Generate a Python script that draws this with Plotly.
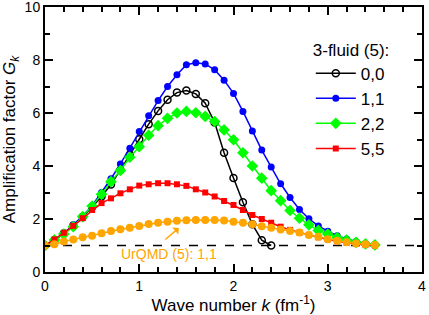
import plotly.graph_objects as go

k = [round(0.1 * i, 1) for i in range(36)]
k_00 = k[:25]

g_00 = [1.0, 1.2, 1.45, 1.75, 2.08, 2.45, 2.85, 3.3, 3.85, 4.42, 5.01, 5.58, 6.08, 6.5, 6.77,
        6.85, 6.72, 6.37, 5.64, 4.5, 3.55, 2.63, 1.8, 1.2, 1.0]
g_11 = [1.0, 1.2, 1.46, 1.78, 2.11, 2.5, 3.0, 3.52, 4.08, 4.67, 5.3, 5.9, 6.47, 7.0, 7.44,
        7.82, 7.9, 7.85, 7.63, 7.24, 6.74, 6.06, 5.32, 4.6, 3.96, 3.33, 2.81, 2.36, 2.01,
        1.74, 1.54, 1.37, 1.25, 1.15, 1.07, 1.03]
g_22 = [1.0, 1.21, 1.43, 1.71, 2.09, 2.49, 2.93, 3.41, 3.83, 4.33, 4.73, 5.16, 5.52, 5.8, 6.0,
        6.06, 6.01, 5.87, 5.68, 5.36, 4.99, 4.5, 4.0, 3.54, 3.07, 2.69, 2.32, 2.03, 1.78,
        1.57, 1.43, 1.3, 1.2, 1.12, 1.06, 1.02]
g_55 = [1.0, 1.23, 1.48, 1.74, 2.03, 2.34, 2.6, 2.78, 2.97, 3.12, 3.26, 3.31, 3.35, 3.35, 3.31,
        3.25, 3.12, 3.0, 2.85, 2.68, 2.53, 2.34, 2.15, 2.0, 1.86, 1.71, 1.59, 1.49, 1.4,
        1.31, 1.23, 1.16, 1.1, 1.06, 1.03, 1.0]
g_urqmd = [1.0, 1.05, 1.15, 1.23, 1.31, 1.37, 1.46, 1.55, 1.61, 1.67, 1.74, 1.81, 1.86, 1.9,
           1.93, 1.95, 1.96, 1.96, 1.96, 1.94, 1.9, 1.86, 1.8, 1.73, 1.67, 1.6, 1.55, 1.49,
           1.4, 1.33, 1.24, 1.18, 1.12, 1.08, 1.05, 1.02]

FONT = "Liberation Sans, Arial, sans-serif"

fig = go.Figure()
fig.add_hline(y=1, line=dict(color="black", width=1.5, dash="dash"), layer="below")

fig.add_trace(go.Scatter(x=k_00, y=g_00, mode="lines+markers", name="0,0",
                         line=dict(color="black", width=1.5),
                         marker=dict(symbol="circle-open", size=7, color="black",
                                     line=dict(width=1.5))))
fig.add_trace(go.Scatter(x=k, y=g_11, mode="lines+markers", name="1,1",
                         line=dict(color="#0000ff", width=1.5),
                         marker=dict(symbol="circle", size=7, color="#0000ff")))
fig.add_trace(go.Scatter(x=k, y=g_22, mode="lines+markers", name="2,2",
                         line=dict(color="#00ff00", width=1.5),
                         marker=dict(symbol="diamond", size=9, color="#00ff00")))
fig.add_trace(go.Scatter(x=k, y=g_55, mode="lines+markers", name="5,5",
                         line=dict(color="#ff0000", width=1.5),
                         marker=dict(symbol="square", size=6, color="#ff0000")))
fig.add_trace(go.Scatter(x=k, y=g_urqmd, mode="lines+markers", name="UrQMD (5): 1,1",
                         showlegend=False,
                         line=dict(color="#ffa500", width=1.5),
                         marker=dict(symbol="circle", size=8, color="#ffa500")))

fig.add_annotation(x=1.32, y=0.68, text="UrQMD (5): 1,1", showarrow=False,
                   font=dict(color="#ffa500", size=14, family=FONT))
fig.add_annotation(x=1.42, y=1.66, ax=1.26, ay=1.18, axref="x", ayref="y", text="",
                   showarrow=True, arrowcolor="#ffa500", arrowwidth=1.4, arrowhead=1,
                   arrowsize=1.1, standoff=0, startstandoff=0)

axis_common = dict(showline=True, linecolor="black", linewidth=2, mirror="ticks",
                   ticks="inside", ticklen=8, tickwidth=2, tickcolor="black",
                   showgrid=False, zeroline=False, automargin=False,
                   ticklabeloverflow="allow",
                   tickfont=dict(size=14, color="black", family=FONT))

fig.update_xaxes(range=[0, 4], tickvals=[0, 1, 2, 3, 4],
                 minor=dict(dtick=0.2, ticks="inside", ticklen=5, tickwidth=1.5,
                            tickcolor="black"),
                 title=dict(text="Wave number <i>k</i> (fm<sup>-1</sup>)",
                            font=dict(size=17, color="black", family=FONT)),
                 **axis_common)
fig.update_yaxes(range=[0, 10], tickvals=[0, 2, 4, 6, 8, 10],
                 minor=dict(dtick=1, ticks="inside", ticklen=5, tickwidth=1.5,
                            tickcolor="black"),
                 title=dict(text="Amplification factor <i>G</i><sub><i>k</i></sub>",
                            font=dict(size=17, color="black", family=FONT)),
                 **axis_common)

fig.update_layout(
    width=429, height=315,
    margin=dict(l=45, r=7, t=7, b=43),
    plot_bgcolor="white", paper_bgcolor="white",
    font=dict(family=FONT, color="black"),
    legend=dict(x=0.705, y=0.9, xanchor="left", yanchor="top",
                bgcolor="rgba(0,0,0,0)",
                title=dict(text="3-fluid (5):", font=dict(size=17, family=FONT)),
                font=dict(size=17, family=FONT), itemwidth=40),
)

fig.write_html("out.html", config={"displayModeBar": False},
               post_script="document.body.style.margin='0';document.body.style.overflow='hidden';")
